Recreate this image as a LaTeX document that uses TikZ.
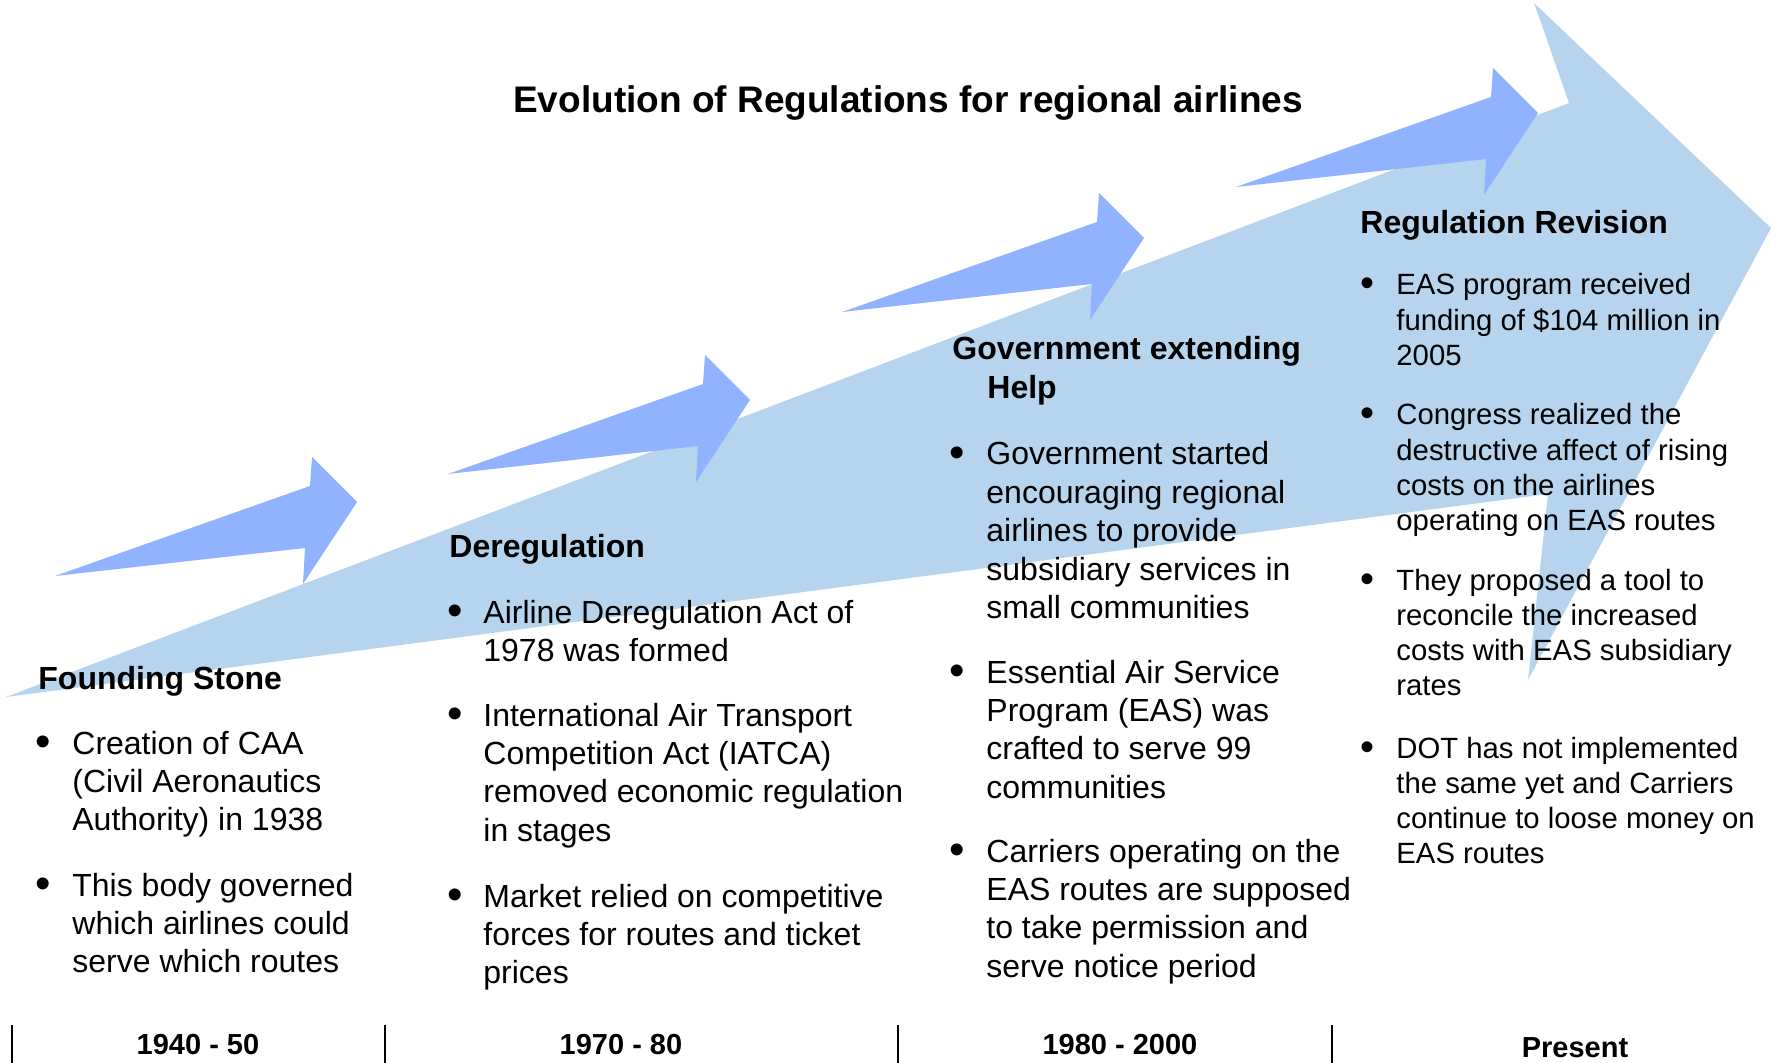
\documentclass[tikz,border=0pt]{standalone}
\usepackage{fontspec}
\setmainfont{Liberation Sans}

\definecolor{bigblue}{RGB}{183,212,239}
\definecolor{stepblue}{RGB}{145,178,255}

% one bullet item, lines broken by hand
\newcommand{\itemlines}[1]{\begin{tabular}[t]{@{}l@{}}#1\end{tabular}}

\begin{document}
\begin{tikzpicture}[x=0.5pt,y=-0.5pt,
    big arrow/.style={fill=bigblue},
    small arrow/.style={fill=stepblue},
    title/.style={anchor=base,inner sep=0pt,font=\fontsize{18.5}{22}\selectfont\bfseries},
    head/.style={anchor=base west,inner sep=0pt,font=\fontsize{16}{19.2}\selectfont\bfseries},
    txt/.style={anchor=base west,inner sep=0pt,font=\fontsize{16}{19.2}\selectfont},
    dot/.style={anchor=base,inner sep=0pt,yshift=-1pt,font=\fontsize{22}{24}\selectfont},
    stxt/.style={anchor=base west,inner sep=0pt,font=\fontsize{14.65}{17.65}\selectfont},
    sdot/.style={anchor=base,inner sep=0pt,yshift=-1pt,font=\fontsize{20}{22}\selectfont},
    year/.style={anchor=base,inner sep=0pt,font=\fontsize{14.5}{17}\selectfont\bfseries},
    tick/.style={line width=1pt}]

    \useasboundingbox (0,0) rectangle (1791,1063);

    % big rising arrow
    \fill[big arrow] (6,697) -- (1569,103) -- (1534,3) -- (1771,228)
        -- (1528,680) -- (1548,494) -- cycle;

    % the four step arrows
    \foreach \t in {(55,576),(448,474),(842,312),(1236,187)}
        \fill[small arrow,shift={\t}] (0,0) -- (255,-90) -- (257,-119)
            -- (302,-74) -- (248,8) -- (250,-28) -- cycle;

    \node[title] (title) at (908,113) {Evolution of Regulations for regional airlines};

    % 1940 - 50
    \node[head] (h1) at (38,689) {Founding Stone};
    \node[dot] (d11) at (43,754) {\textbullet};
    \node[txt] (t11) at (72,754) {\itemlines{Creation of CAA\\(Civil Aeronautics\\Authority) in 1938}};
    \node[dot] (d12) at (43,896) {\textbullet};
    \node[txt] (t12) at (72,896) {\itemlines{This body governed\\which airlines could\\serve which routes}};

    % 1970 - 80
    \node[head] (h2) at (449,557) {Deregulation};
    \node[dot] (d21) at (455,623) {\textbullet};
    \node[txt] (t21) at (483,623) {\itemlines{Airline Deregulation Act of\\1978 was formed}};
    \node[dot] (d22) at (455,726) {\textbullet};
    \node[txt] (t22) at (483,726) {\itemlines{International Air Transport\\Competition Act (IATCA)\\removed economic regulation\\in stages}};
    \node[dot] (d23) at (455,907) {\textbullet};
    \node[txt] (t23) at (483,907) {\itemlines{Market relied on competitive\\forces for routes and ticket\\prices}};

    % 1980 - 2000
    \node[head] (h3) at (952,360) {\itemlines{Government extending\\\hspace*{17.5pt}Help}};
    \node[dot] (d31) at (957,465) {\textbullet};
    \node[txt] (t31) at (986,465) {\itemlines{Government started\\encouraging regional\\airlines to provide\\subsidiary services in\\small communities}};
    \node[dot] (d32) at (957,683) {\textbullet};
    \node[txt] (t32) at (986,683) {\itemlines{Essential Air Service\\Program (EAS) was\\crafted to serve 99\\communities}};
    \node[dot] (d33) at (957,862) {\textbullet};
    \node[txt] (t33) at (986,862) {\itemlines{Carriers operating on the\\EAS routes are supposed\\to take permission and\\serve notice period}};

    % present
    \node[head] (h4) at (1360,234) {Regulation Revision};
    \node[sdot] (d41) at (1367,295) {\textbullet};
    \node[stxt] (t41) at (1396,295) {\itemlines{EAS program received\\funding of \$104 million in\\2005}};
    \node[sdot] (d42) at (1367,425) {\textbullet};
    \node[stxt] (t42) at (1396,425) {\itemlines{Congress realized the\\destructive affect of rising\\costs on the airlines\\operating on EAS routes}};
    \node[sdot] (d43) at (1367,590) {\textbullet};
    \node[stxt] (t43) at (1396,590) {\itemlines{They proposed a tool to\\reconcile the increased\\costs with EAS subsidiary\\rates}};
    \node[sdot] (d44) at (1367,758) {\textbullet};
    \node[stxt] (t44) at (1396,758) {\itemlines{DOT has not implemented\\the same yet and Carriers\\continue to loose money on\\EAS routes}};

    % time line
    \foreach \x in {12,385,898,1332}
        \draw[tick] (\x,1025) -- (\x,1063);
    \node[year] (y1) at (198,1054) {1940 - 50};
    \node[year] (y2) at (621,1054) {1970 - 80};
    \node[year] (y3) at (1120,1054) {1980 - 2000};
    \node[year] (y4) at (1575,1057) {Present};

\end{tikzpicture}
\end{document}
